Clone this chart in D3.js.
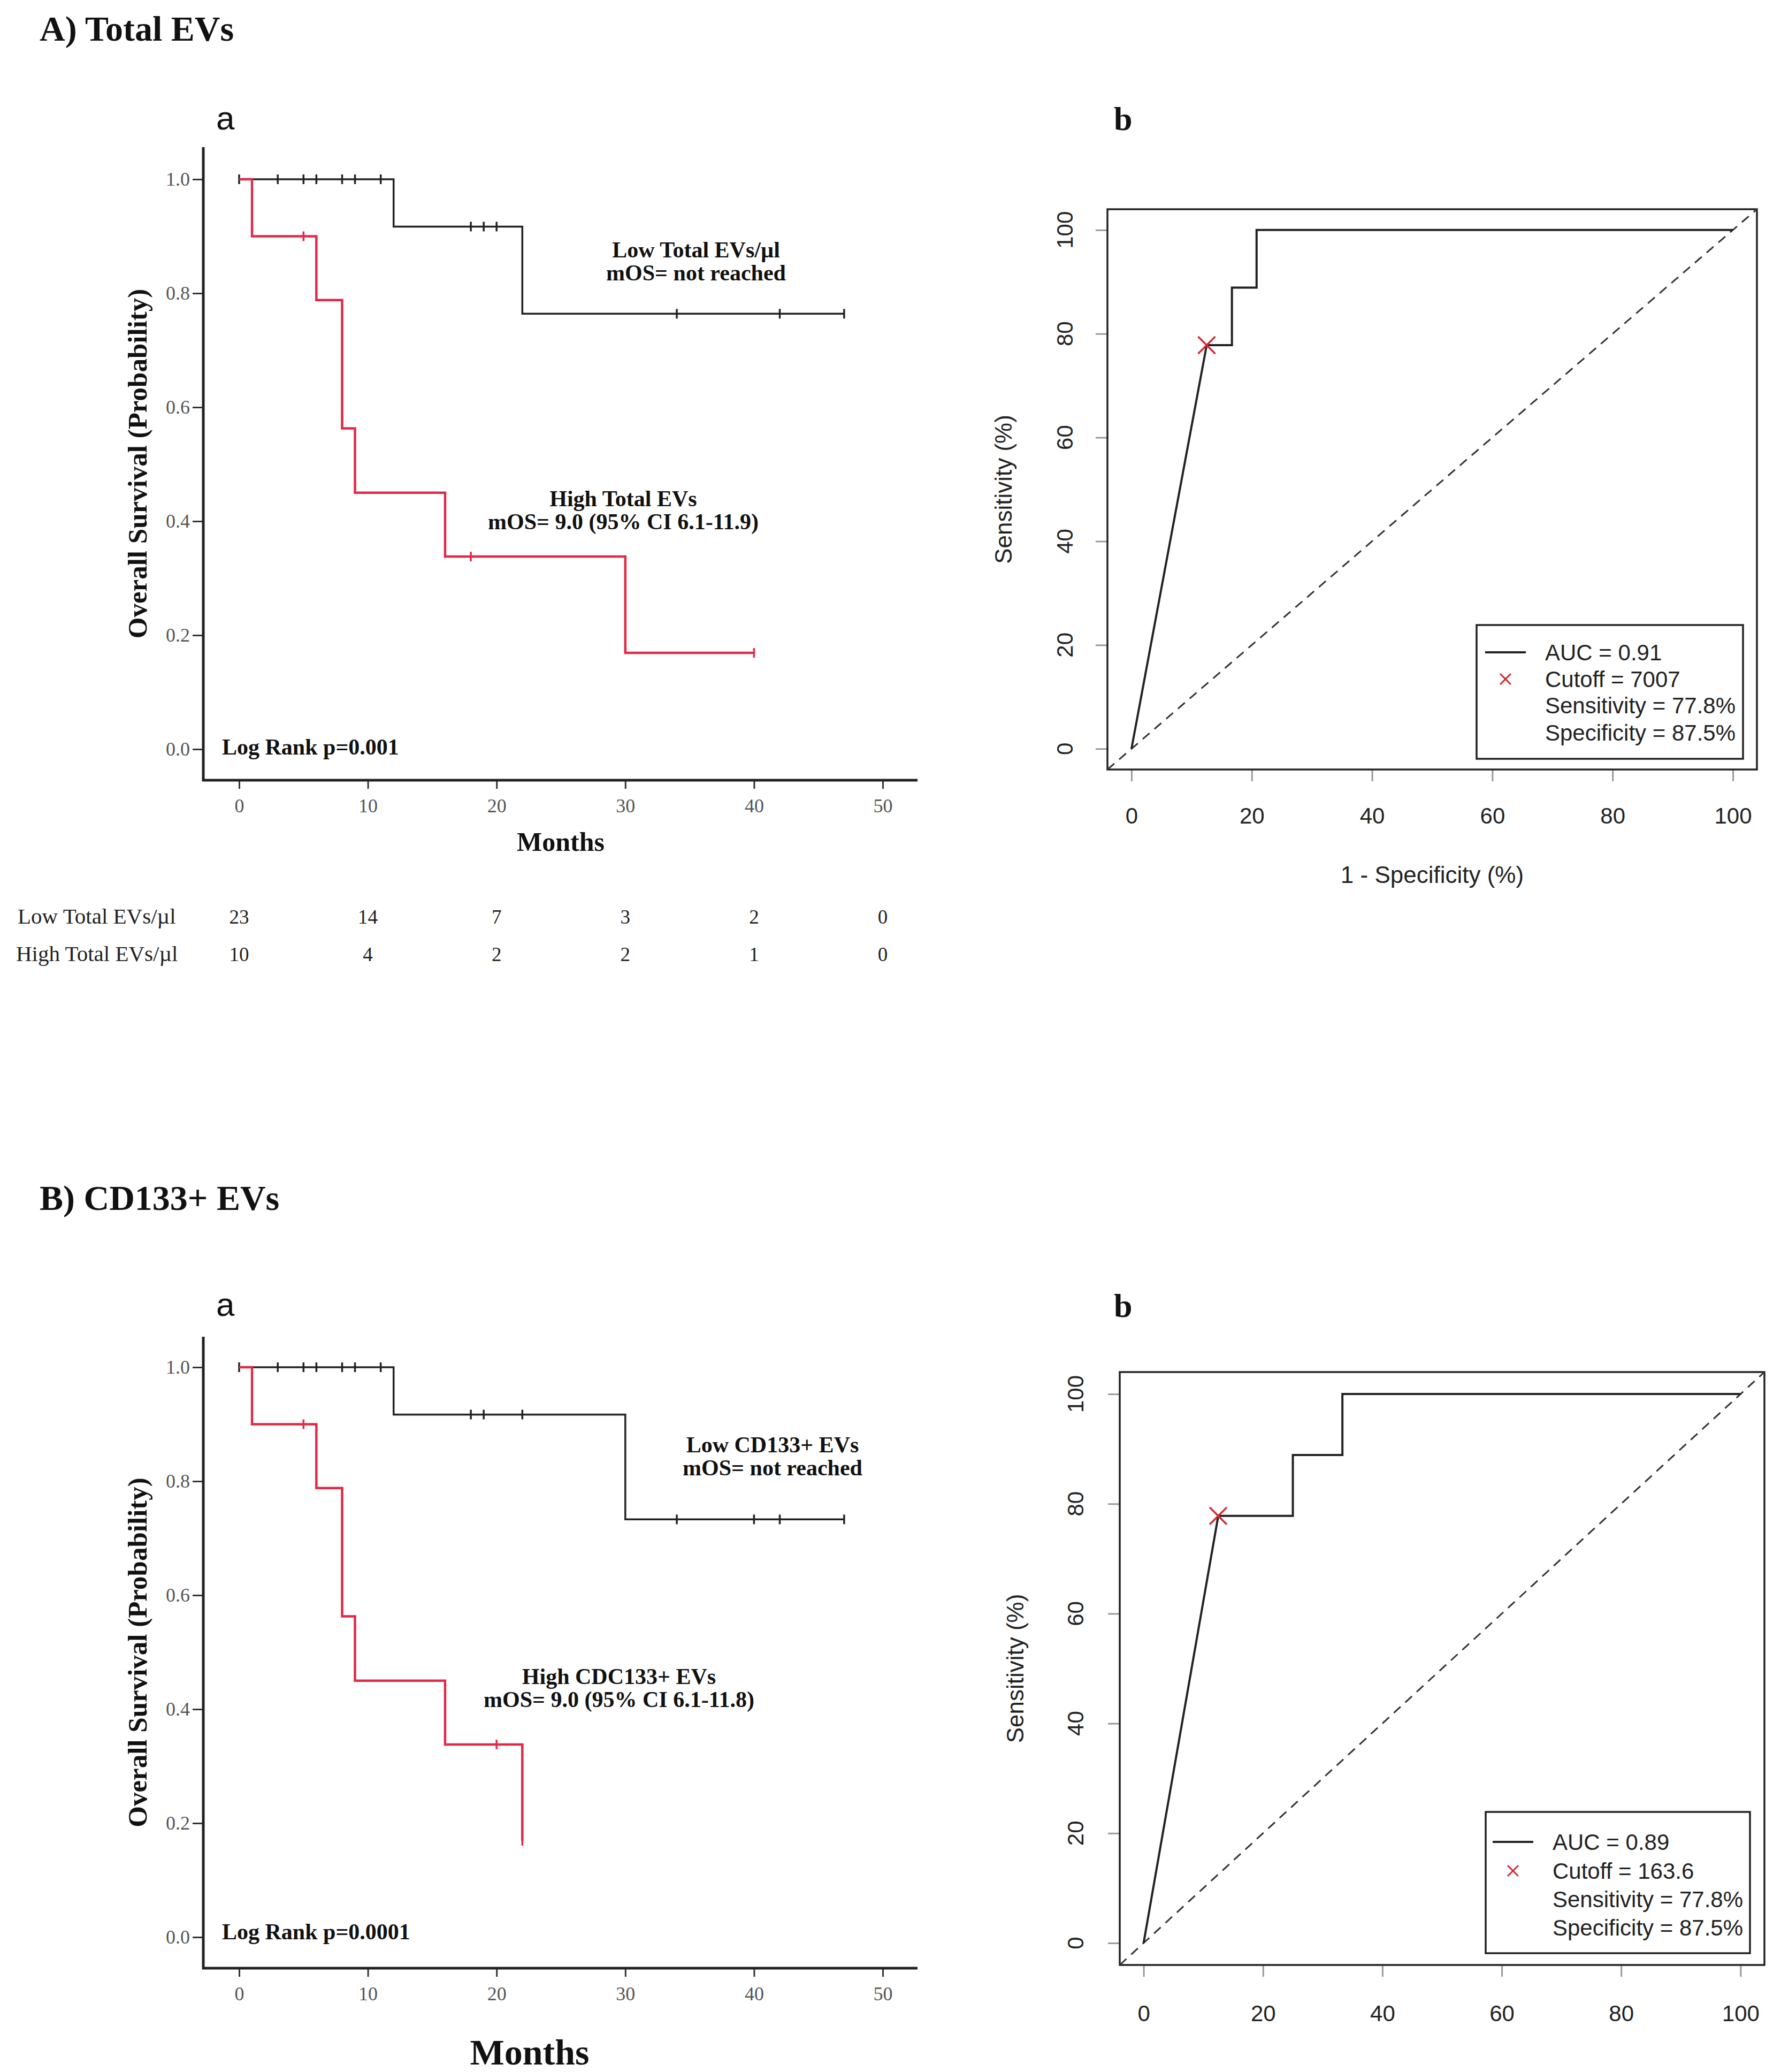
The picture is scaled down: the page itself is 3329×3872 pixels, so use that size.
<!DOCTYPE html>
<html>
<head>
<meta charset="utf-8">
<script src="https://cdn.jsdelivr.net/npm/d3@7"></script>
<style>
  body { margin: 0; background: #fff; }
  svg { display: block; }
</style>
</head>
<body>
<svg id="fig" width="3329" height="3872"></svg>
<script>
// ---- data ----
var riskTimes = [0, 10, 20, 30, 40, 50];
var survTicks = [0, 0.2, 0.4, 0.6, 0.8, 1.0];
var rocTicks = [0, 20, 40, 60, 80, 100];

// A) Total EVs, Kaplan-Meier
var kmA_lowSteps = [[0, 1.0], [12, 0.917], [22, 0.764]];
var kmA_lowEnd = 47;
var kmA_lowCensor = [0, 3, 5, 6, 8, 9, 11, 18, 19, 20, 34, 42, 47];
var kmA_highSteps = [[0, 1.0], [1, 0.9], [6, 0.788], [8, 0.563], [9, 0.45], [16, 0.338], [30, 0.169]];
var kmA_highEnd = 40;
var kmA_highCensor = [5, 18, 40];
var riskLowA = [23, 14, 7, 3, 2, 0];
var riskHighA = [10, 4, 2, 2, 1, 0];

// B) CD133+ EVs, Kaplan-Meier
var kmB_lowSteps = [[0, 1.0], [12, 0.917], [30, 0.733]];
var kmB_lowEnd = 47;
var kmB_lowCensor = [0, 3, 5, 6, 8, 9, 11, 18, 19, 22, 34, 40, 42, 47];
var kmB_highSteps = [[0, 1.0], [1, 0.9], [6, 0.788], [8, 0.563], [9, 0.45], [16, 0.338], [22, 0.169]];
var kmB_highEnd = 22;
var kmB_highCensor = [5, 20, 22];

// ROC curves (1 - specificity %, sensitivity %)
var rocA_fpr = [0, 12.5, 16.7, 16.7, 20.8, 20.8, 100];
var rocA_tpr = [0, 77.8, 77.8, 88.9, 88.9, 100, 100];
var rocA_cut = [12.5, 77.8];
var rocA_legend = ["AUC = 0.91", "Cutoff = 7007", "Sensitivity = 77.8%", "Specificity = 87.5%"];

var rocB_fpr = [0, 12.5, 25, 25, 33.3, 33.3, 100];
var rocB_tpr = [0, 77.8, 77.8, 88.9, 88.9, 100, 100];
var rocB_cut = [12.5, 77.8];
var rocB_legend = ["AUC = 0.89", "Cutoff = 163.6", "Sensitivity = 77.8%", "Specificity = 87.5%"];

var SERIF = "'Liberation Serif', 'DejaVu Serif', serif";
var SANS = "'Liberation Sans', Arial, sans-serif";
var RED = "#e02a48";

var svg = d3.select("#fig");
svg.append("rect").attr("width", 3329).attr("height", 3872).attr("fill", "#fff");

function survAt(steps, t) {
    var s = steps[0][1];
    steps.forEach(function(d) { if (d[0] <= t) s = d[1]; });
    return s;
}

function text(g, x, y, str, size, opts) {
    opts = opts || {};
    return g.append("text")
        .attr("x", x).attr("y", y)
        .attr("font-family", opts.family || SERIF)
        .attr("font-size", size)
        .attr("font-weight", opts.bold ? "bold" : "normal")
        .attr("text-anchor", opts.anchor || "start")
        .attr("fill", opts.fill || "#111")
        .text(str);
}

function drawKM(c) {
    var g = svg.append("g");
    var x = d3.scaleLinear().domain([0, 50]).range([447, 1650]);
    var y = d3.scaleLinear().domain([0, 1]).range([c.y0, c.y1]);

    // axes
    var ya = g.append("g").attr("transform", "translate(380,0)")
        .call(d3.axisLeft(y).tickValues(survTicks).tickSize(20).tickSizeOuter(0).tickFormat(d3.format(".1f")));
    ya.select(".domain").remove();
    ya.selectAll("line").attr("stroke", "#333").attr("stroke-width", 3);
    ya.selectAll("text").attr("font-family", SERIF).attr("font-size", 36).attr("fill", "#555").attr("dx", "-2");

    var xa = g.append("g").attr("transform", "translate(0," + c.axisY + ")")
        .call(d3.axisBottom(x).tickValues(riskTimes).tickSize(16).tickSizeOuter(0));
    xa.select(".domain").remove();
    xa.selectAll("line").attr("stroke", "#333").attr("stroke-width", 3);
    xa.selectAll("text").attr("font-family", SERIF).attr("font-size", 36).attr("fill", "#555").attr("dy", "1.15em");

    g.append("line").attr("x1", 380).attr("x2", 380).attr("y1", c.top).attr("y2", c.axisY + 2)
        .attr("stroke", "#222").attr("stroke-width", 5);
    g.append("line").attr("x1", 378).attr("x2", 1715).attr("y1", c.axisY).attr("y2", c.axisY)
        .attr("stroke", "#222").attr("stroke-width", 5);

    var line = d3.line().x(function(d) { return x(d[0]); }).y(function(d) { return y(d[1]); })
        .curve(d3.curveStepAfter);

    [[c.low, c.lowEnd, c.lowCensor, "#222", 3.5], [c.high, c.highEnd, c.highCensor, RED, 4.5]].forEach(function(s) {
        var pts = s[0].concat([[s[1], s[0][s[0].length - 1][1]]]);
        g.append("path").datum(pts).attr("d", line)
            .attr("fill", "none").attr("stroke", s[3]).attr("stroke-width", s[4]);
        g.selectAll(null).data(s[2]).enter().append("line")
            .attr("x1", function(t) { return x(t); }).attr("x2", function(t) { return x(t); })
            .attr("y1", function(t) { return y(survAt(s[0], t)) - 9; })
            .attr("y2", function(t) { return y(survAt(s[0], t)) + 9; })
            .attr("stroke", s[3]).attr("stroke-width", 3.5);
    });

    // axis titles
    g.append("text").attr("transform", "translate(256," + ((c.top + c.axisY) / 2) + ") rotate(-90)")
        .attr("dy", "0.35em").attr("text-anchor", "middle")
        .attr("font-family", SERIF).attr("font-weight", "bold").attr("font-size", 51).attr("fill", "#111")
        .text("Overall Survival (Probability)");
    text(g, c.monthsX, c.monthsY, "Months", c.monthsSize, {bold: true, anchor: "middle"});

    // annotations
    text(g, c.lowLab[0], c.lowLab[1], c.lowLab[2], 42, {bold: true, anchor: "middle"});
    text(g, c.lowLab[0], c.lowLab[1] + 43, "mOS= not reached", 42, {bold: true, anchor: "middle"});
    text(g, c.highLab[0], c.highLab[1], c.highLab[2], 42, {bold: true, anchor: "middle"});
    text(g, c.highLab[0], c.highLab[1] + 43, c.highLab[3], 42, {bold: true, anchor: "middle"});
    text(g, 415, c.logY, c.logRank, 42, {bold: true});

    // numbers at risk
    if (c.riskLow) {
        text(g, 33, 1726, "Low Total EVs/\u00b5l", 41, {fill: "#222"});
        text(g, 30, 1796, "High Total EVs/\u00b5l", 41, {fill: "#222"});
        g.selectAll(null).data(c.riskLow).enter().append("text")
            .attr("x", function(d, i) { return x(riskTimes[i]); }).attr("y", 1726)
            .attr("text-anchor", "middle").attr("font-family", SERIF).attr("font-size", 37).attr("fill", "#222")
            .text(function(d) { return d; });
        g.selectAll(null).data(c.riskHigh).enter().append("text")
            .attr("x", function(d, i) { return x(riskTimes[i]); }).attr("y", 1796)
            .attr("text-anchor", "middle").attr("font-family", SERIF).attr("font-size", 37).attr("fill", "#222")
            .text(function(d) { return d; });
    }
}

function drawROC(c) {
    var g = svg.append("g");
    var x = d3.scaleLinear().domain([-4, 104]).range([c.left, c.right]);
    var y = d3.scaleLinear().domain([-4, 104]).range([c.bottom, c.top]);

    var xa = g.append("g").attr("transform", "translate(0," + c.bottom + ")")
        .call(d3.axisBottom(x).tickValues(rocTicks).tickSize(22).tickSizeOuter(0));
    xa.select(".domain").remove();
    xa.selectAll("line").attr("stroke", "#999").attr("stroke-width", 3);
    xa.selectAll("text").attr("font-family", SANS).attr("font-size", 42).attr("fill", "#222")
        .attr("y", c.xLabY - c.bottom).attr("dy", "0.35em");

    var ya = g.append("g").attr("transform", "translate(" + c.left + ",0)")
        .call(d3.axisLeft(y).tickValues(rocTicks).tickSize(22).tickSizeOuter(0));
    ya.select(".domain").remove();
    ya.selectAll("line").attr("stroke", "#999").attr("stroke-width", 3);
    ya.selectAll("text").remove();
    g.selectAll(null).data(rocTicks).enter().append("text")
        .attr("transform", function(d) { return "translate(" + c.yLabX + "," + y(d) + ") rotate(-90)"; })
        .attr("dy", "0.35em").attr("text-anchor", "middle")
        .attr("font-family", SANS).attr("font-size", 42).attr("fill", "#222")
        .text(function(d) { return d; });

    g.append("rect").attr("x", c.left).attr("y", c.top)
        .attr("width", c.right - c.left).attr("height", c.bottom - c.top)
        .attr("fill", "none").attr("stroke", "#222").attr("stroke-width", 3.5);

    // chance diagonal
    g.append("line").attr("x1", x(-4)).attr("y1", y(-4)).attr("x2", x(104)).attr("y2", y(104))
        .attr("stroke", "#333").attr("stroke-width", 3).attr("stroke-dasharray", "17,12");

    var pts = c.fpr.map(function(f, i) { return [f, c.tpr[i]]; });
    g.append("path").datum(pts)
        .attr("d", d3.line().x(function(d) { return x(d[0]); }).y(function(d) { return y(d[1]); }))
        .attr("fill", "none").attr("stroke", "#222").attr("stroke-width", 4);

    function cross(cx, cy, r, w) {
        g.append("path")
            .attr("d", "M" + (cx - r) + "," + (cy - r) + "L" + (cx + r) + "," + (cy + r) +
                       "M" + (cx - r) + "," + (cy + r) + "L" + (cx + r) + "," + (cy - r))
            .attr("stroke", "#d02a30").attr("stroke-width", w);
    }
    cross(x(c.cut[0]), y(c.cut[1]), 16, 3.5);

    // titles
    g.append("text").attr("transform", "translate(" + c.yTitleX + "," + ((c.top + c.bottom) / 2) + ") rotate(-90)")
        .attr("dy", "0.35em").attr("text-anchor", "middle")
        .attr("font-family", SANS).attr("font-size", 44).attr("fill", "#222")
        .text("Sensitivity (%)");
    if (c.xTitleY) {
        text(g, (c.left + c.right) / 2, c.xTitleY, "1 - Specificity (%)", 44, {family: SANS, anchor: "middle", fill: "#222"});
    }

    // legend
    var L = c.legend;
    g.append("rect").attr("x", L.x0).attr("y", L.y0).attr("width", L.x1 - L.x0).attr("height", L.y1 - L.y0)
        .attr("fill", "#fff").attr("stroke", "#222").attr("stroke-width", 3.5);
    g.append("line").attr("x1", L.lx0).attr("x2", L.lx1).attr("y1", L.rows[0]).attr("y2", L.rows[0])
        .attr("stroke", "#222").attr("stroke-width", 4);
    cross((L.lx0 + L.lx1) / 2, L.rows[1], 10, 3);
    c.legendText.forEach(function(s, i) {
        g.append("text").attr("x", L.tx).attr("y", L.rows[i]).attr("dy", "0.35em")
            .attr("font-family", SANS).attr("font-size", 42).attr("fill", "#222").text(s);
    });
}

// section titles and panel letters
text(svg, 74, 76, "A) Total EVs", 66, {bold: true});
text(svg, 74, 2261, "B) CD133+ EVs", 66, {bold: true});
text(svg, 404, 242, "a", 62, {family: SANS});
text(svg, 404, 2459, "a", 62, {family: SANS});
text(svg, 2082, 243, "b", 62, {bold: true});
text(svg, 2082, 2461, "b", 62, {bold: true});

drawKM({
    top: 275, axisY: 1458, y1: 335, y0: 1400,
    low: kmA_lowSteps, lowEnd: kmA_lowEnd, lowCensor: kmA_lowCensor,
    high: kmA_highSteps, highEnd: kmA_highEnd, highCensor: kmA_highCensor,
    lowLab: [1301, 481, "Low Total EVs/\u00b5l"],
    highLab: [1165, 946, "High Total EVs", "mOS= 9.0 (95% CI 6.1-11.9)"],
    logRank: "Log Rank p=0.001", logY: 1410,
    monthsX: 1048, monthsY: 1590, monthsSize: 50,
    riskLow: riskLowA, riskHigh: riskHighA
});

drawKM({
    top: 2498, axisY: 3678, y1: 2555, y0: 3620,
    low: kmB_lowSteps, lowEnd: kmB_lowEnd, lowCensor: kmB_lowCensor,
    high: kmB_highSteps, highEnd: kmB_highEnd, highCensor: kmB_highCensor,
    lowLab: [1444, 2714, "Low CD133+ EVs"],
    highLab: [1157, 3147, "High CDC133+ EVs", "mOS= 9.0 (95% CI 6.1-11.8)"],
    logRank: "Log Rank p=0.0001", logY: 3624,
    monthsX: 990, monthsY: 3858, monthsSize: 68
});

drawROC({
    left: 2070, right: 3284, top: 391, bottom: 1438,
    fpr: rocA_fpr, tpr: rocA_tpr, cut: rocA_cut, legendText: rocA_legend,
    xLabY: 1524, yLabX: 1990, yTitleX: 1876, xTitleY: 1650,
    legend: {x0: 2760, x1: 3258, y0: 1168, y1: 1418, rows: [1219, 1269, 1318, 1369], lx0: 2776, lx1: 2852, tx: 2888}
});

drawROC({
    left: 2093, right: 3298, top: 2564, bottom: 3672,
    fpr: rocB_fpr, tpr: rocB_tpr, cut: rocB_cut, legendText: rocB_legend,
    xLabY: 3762, yLabX: 2010, yTitleX: 1898,
    legend: {x0: 2777, x1: 3271, y0: 3386, y1: 3650, rows: [3442, 3496, 3549, 3602], lx0: 2790, lx1: 2866, tx: 2902}
});
</script>
</body>
</html>
